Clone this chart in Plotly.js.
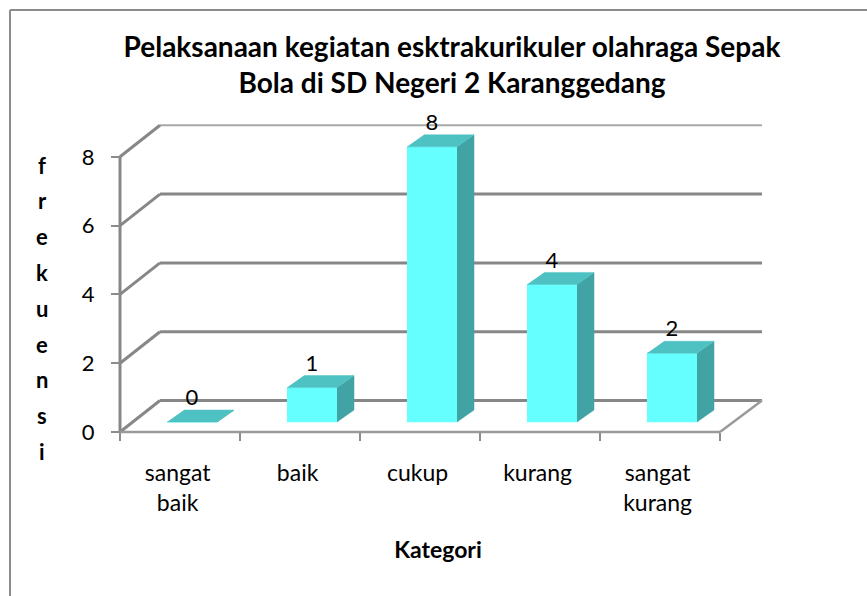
<!DOCTYPE html>
<html>
<head>
<meta charset="utf-8">
<script src="https://cdn.plot.ly/plotly-3.0.1.min.js"></script>
<style>html,body{margin:0;padding:0;background:#fff;}#chart{width:867px;height:596px;}</style>
</head>
<body>
<div id="chart"></div>
<script>
// ---- data ----
const categories = ['sangat baik', 'baik', 'cukup', 'kurang', 'sangat kurang'];
const frekuensi = [0, 1, 8, 4, 2];
const yTickValues = [0, 2, 4, 6, 8];
const yTitleLetters = ['f', 'r', 'e', 'k', 'u', 'e', 'n', 's', 'i'];
const titleText = 'Pelaksanaan kegiatan esktrakurikuler olahraga Sepak<br>Bola di SD Negeri 2 Karanggedang';

// ---- 3D look (in axis units) ----
const DX = 40 / 120, DY = 31.5 / 34.4;        // full depth of the floor / walls
const fOffX = 0.1, fOffY = 0.29;              // bar front face offset
const dX = 17 / 120, dY = 12 / 34.4;          // bar depth
const halfW = 0.2083;
const FONT = 'Lato, "Open Sans", sans-serif';

const idx = categories.map((c, i) => i);
const frontFace = {x: [], y: []}, sideFace = {x: [], y: []}, topFace = {x: [], y: []};
idx.forEach(i => {
  const v = frekuensi[i];
  const x0 = i + fOffX - halfW, x1 = i + fOffX + halfW;
  const y0 = fOffY, y1 = v + fOffY;
  frontFace.x.push(x0, x1, x1, x0, null); frontFace.y.push(y0, y0, y1, y1, null);
  sideFace.x.push(x1, x1 + dX, x1 + dX, x1, null); sideFace.y.push(y0, y0 + dY, y1 + dY, y1, null);
  topFace.x.push(x0, x1, x1 + dX, x0 + dX, null); topFace.y.push(y1, y1, y1 + dY, y1 + dY, null);
});

function face(d, color) {
  return {x: d.x, y: d.y, type: 'scatter', mode: 'lines', fill: 'toself', fillcolor: color,
          line: {width: 0.5, color: color}, hoverinfo: 'skip', showlegend: false};
}

const traces = [
  face(frontFace, '#66FFFF'),
  face(sideFace, '#41A3A3'),
  face(topFace, '#4EC2C2'),
  {x: idx.map(i => i + fOffX), y: frekuensi.map(v => v + fOffY + dY + 0.3),
   text: frekuensi.map(String), type: 'scatter', mode: 'text', cliponaxis: false,
   textfont: {family: FONT, size: 22, color: '#000'}, hoverinfo: 'skip', showlegend: false}
];

// ---- walls / gridlines ----
const shapes = [];
const GRID = '#878787';
yTickValues.forEach(v => {
  const isTop = v === yTickValues[yTickValues.length - 1];
  shapes.push({type: 'line', xref: 'x', yref: 'y', layer: 'below',
    x0: -0.5 + DX, x1: 4.85, y0: v + DY, y1: v + DY,
    line: {color: isTop ? '#a8a8a8' : GRID, width: isTop ? 2 : 3}});
  shapes.push({type: 'line', xref: 'x', yref: 'y', layer: 'below',
    x0: -0.5, x1: -0.5 + DX, y0: v, y1: v + DY, line: {color: GRID, width: 3}});
});
shapes.push({type: 'line', xref: 'x', yref: 'y', layer: 'below', x0: -0.5, x1: -0.5, y0: 0, y1: 8,
  line: {color: GRID, width: 3}});
shapes.push({type: 'line', xref: 'x', yref: 'y', layer: 'below', x0: -0.5, x1: 4.5, y0: 0, y1: 0,
  line: {color: '#9a9a9a', width: 2.5}});
shapes.push({type: 'line', xref: 'x', yref: 'y', layer: 'below', x0: 4.5, x1: 4.85, y0: 0, y1: DY,
  line: {color: '#9a9a9a', width: 2.5}});
// outer frame (left and top edges)
shapes.push({type: 'line', xref: 'paper', yref: 'paper', x0: -0.1485, x1: -0.1485, y0: 1.3364, y1: -0.5,
  line: {color: '#8c8c8c', width: 2}});
shapes.push({type: 'line', xref: 'paper', yref: 'paper', x0: -0.1485, x1: 1.2, y0: 1.3364, y1: 1.3364,
  line: {color: '#8c8c8c', width: 2}});

// y title letters stacked
const annotations = yTitleLetters.map((ch, i) => ({
  text: ch, xref: 'paper', yref: 'paper', x: (42 - 108) / 660, y: (439 - (165 + 35.8 * i)) / 321,
  xanchor: 'center', yanchor: 'middle', showarrow: false,
  font: {family: FONT, size: 22, color: '#000', weight: 700}
}));

const layout = {
  width: 867, height: 596,
  margin: {l: 108, r: 99, t: 118, b: 157},
  paper_bgcolor: '#fff', plot_bgcolor: 'rgba(0,0,0,0)',
  showlegend: false,
  title: {text: titleText, font: {family: FONT, size: 28, color: '#000', weight: 700},
          x: 452 / 867, xanchor: 'center', xref: 'container', y: 1 - 57 / 596, yanchor: 'top', yref: 'container'},
  xaxis: {
    range: [-0.6, 4.9], tickmode: 'array', tickvals: idx.map(i => i - 0.02),
    ticktext: categories.map(c => c.replace(' ', '<br>')),
    ticks: '', showgrid: false, zeroline: false, showline: false,
    anchor: 'free', position: 7 / 321,
    tickfont: {family: FONT, size: 23, color: '#000'}, ticklabelstandoff: 25,
    minor: {tickmode: 'array', tickvals: [-0.5, 0.5, 1.5, 2.5, 3.5, 4.5], ticks: 'outside',
            ticklen: 8, tickwidth: 2, tickcolor: '#8c8c8c', showgrid: false},
    title: {text: 'Kategori', font: {family: FONT, size: 23, color: '#000', weight: 700}, standoff: 26},
    fixedrange: true
  },
  yaxis: {
    range: [-7 / 34.4, 314 / 34.4], tickmode: 'array', tickvals: yTickValues,
    ticks: 'outside', ticklen: 9, tickwidth: 2, tickcolor: '#8c8c8c',
    showgrid: false, zeroline: false, showline: false,
    anchor: 'free', position: 12 / 660,
    tickfont: {family: FONT, size: 22, color: '#000'}, ticklabelstandoff: 12,
    fixedrange: true
  },
  shapes: shapes,
  annotations: annotations
};

Plotly.newPlot('chart', traces, layout, {displayModeBar: false, staticPlot: true});
</script>
</body>
</html>
